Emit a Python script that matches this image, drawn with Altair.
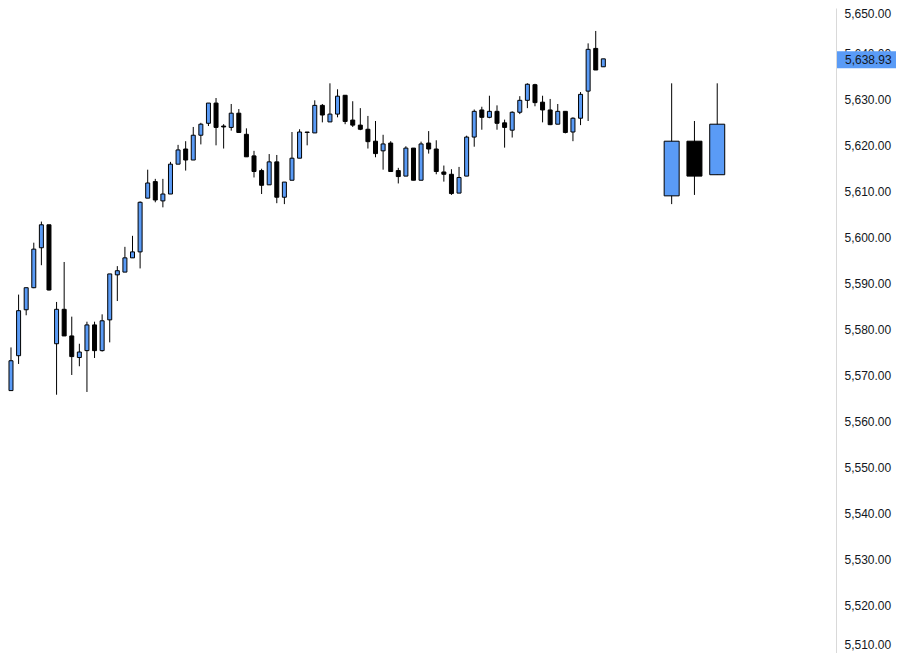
import altair as alt
import pandas as pd

opens = [5566.7, 5574.3, 5584.3, 5589.1, 5597.8, 5602.8, 5576.9, 5584.4, 5578.6, 5573.9,
         5575.4, 5581.0, 5575.4, 5582.1, 5591.9, 5592.5, 5595.6, 5596.9, 5608.6, 5612.2,
         5608.0, 5609.5, 5616.0, 5619.3, 5616.9, 5622.3, 5624.9, 5629.3, 5624.3, 5624.0,
         5627.1, 5622.5, 5617.8, 5614.6, 5611.5, 5616.5, 5608.8, 5612.5, 5617.3, 5623.0,
         5622.8, 5628.8, 5625.2, 5626.9, 5631.0, 5625.6, 5624.5, 5623.6, 5621.0, 5618.9,
         5620.6, 5614.6, 5613.4, 5619.5, 5612.5, 5620.6, 5619.3, 5614.3, 5613.8, 5609.7,
         5613.4, 5621.9, 5627.8, 5626.2, 5627.5, 5625.0, 5623.4, 5627.3, 5629.9, 5633.3,
         5629.5, 5627.8, 5624.7, 5627.5, 5623.0, 5626.0, 5631.9, 5641.2, 5637.2]
highs = [5576.1, 5587.6, 5589.1, 5598.9, 5603.5, 5602.8, 5586.0, 5594.7, 5582.8, 5576.9,
         5581.7, 5581.7, 5583.3, 5592.1, 5593.8, 5598.0, 5600.4, 5607.9, 5614.8, 5612.8,
         5612.8, 5616.5, 5620.2, 5621.0, 5624.1, 5625.0, 5629.3, 5630.4, 5624.7, 5629.1,
         5628.0, 5623.8, 5618.9, 5615.0, 5618.2, 5618.0, 5612.1, 5623.0, 5623.6, 5623.0,
         5629.9, 5629.1, 5633.6, 5632.3, 5631.0, 5629.7, 5628.2, 5626.5, 5625.4, 5622.4,
         5621.0, 5615.2, 5619.9, 5619.5, 5620.9, 5623.2, 5621.2, 5615.7, 5614.9, 5615.4,
         5622.2, 5627.9, 5628.5, 5630.9, 5628.8, 5625.7, 5627.5, 5630.8, 5633.6, 5633.5,
         5630.9, 5630.2, 5629.1, 5627.5, 5626.2, 5631.7, 5642.3, 5645.0, 5638.93]
lows = [5566.7, 5572.5, 5583.1, 5589.0, 5594.0, 5588.5, 5565.8, 5578.6, 5570.1, 5572.0,
        5566.4, 5573.8, 5575.2, 5577.2, 5586.2, 5592.5, 5595.6, 5593.3, 5608.6, 5607.7,
        5606.6, 5609.5, 5616.0, 5614.6, 5616.9, 5620.3, 5624.3, 5620.1, 5619.4, 5623.3,
        5622.9, 5617.6, 5613.1, 5609.5, 5611.5, 5607.5, 5607.3, 5612.5, 5617.3, 5620.1,
        5622.8, 5625.1, 5625.2, 5626.2, 5624.7, 5624.1, 5623.4, 5619.4, 5617.5, 5614.8,
        5614.4, 5611.8, 5613.4, 5612.5, 5612.5, 5618.3, 5613.8, 5612.2, 5609.3, 5609.7,
        5613.4, 5619.8, 5623.5, 5626.0, 5623.5, 5619.6, 5621.8, 5626.9, 5628.2, 5628.6,
        5625.1, 5624.5, 5624.7, 5622.7, 5621.0, 5624.5, 5625.4, 5636.5, 5637.2]
closes = [5573.2, 5584.1, 5589.1, 5597.5, 5602.8, 5588.6, 5584.4, 5578.6, 5574.1, 5575.1,
          5581.0, 5575.4, 5581.9, 5592.1, 5592.8, 5595.6, 5596.9, 5607.7, 5611.9, 5608.2,
          5609.5, 5616.0, 5619.1, 5616.9, 5622.3, 5624.7, 5629.3, 5624.0, 5624.1, 5627.1,
          5622.9, 5617.6, 5614.4, 5611.4, 5616.5, 5608.8, 5612.1, 5617.3, 5623.0, 5622.9,
          5628.8, 5626.7, 5626.9, 5630.8, 5625.3, 5624.5, 5623.6, 5620.9, 5618.3, 5620.4,
          5614.4, 5613.3, 5619.5, 5612.5, 5620.4, 5619.3, 5614.4, 5613.8, 5609.6, 5613.1,
          5621.9, 5627.5, 5626.2, 5627.5, 5624.9, 5624.0, 5627.3, 5629.9, 5633.4, 5629.4,
          5627.8, 5624.6, 5627.5, 5622.9, 5626.0, 5631.2, 5641.0, 5636.5, 5638.93]

# summary candles on the right
big_pos = [87, 90, 93]
big_open = [5609.1, 5621.0, 5613.7]
big_high = [5633.6, 5625.4, 5633.6]
big_low = [5607.3, 5609.3, 5613.7]
big_close = [5621.0, 5613.4, 5624.7]

last_price = 5638.93
last_label = "5,638.93"
y_ticks = [5510, 5520, 5530, 5540, 5550, 5560, 5570, 5580, 5590, 5600, 5610, 5620, 5630, 5640, 5650]

UP = "#5A9BF6"
DOWN = "#000000"

small = pd.DataFrame({
    "idx": list(range(len(opens))),
    "open": opens, "high": highs, "low": lows, "close": closes,
})
small["kind"] = "small"
big = pd.DataFrame({
    "idx": big_pos, "open": big_open, "high": big_high, "low": big_low, "close": big_close,
})
big["kind"] = "big"
df = pd.concat([small, big], ignore_index=True)
df["dir"] = ["up" if c >= o else "down" for o, c in zip(df["open"], df["close"])]

W, H = 828, 645
xs = alt.Scale(domain=[-0.395, 108.64], nice=False, zero=False, padding=0)
ys = alt.Scale(domain=[5650 - H / 4.593, 5650], nice=False, zero=False, padding=0)

x_enc = alt.X("idx:Q", scale=xs, axis=None)
color_enc = alt.Color("dir:N", scale=alt.Scale(domain=["up", "down"], range=[UP, DOWN]), legend=None)

base = alt.Chart(df)

wicks = base.mark_rule(color="black", strokeWidth=1).encode(
    x=x_enc,
    y=alt.Y("low:Q", scale=ys, axis=alt.Axis(
        orient="right", values=y_ticks, format=",.2f", grid=False, ticks=False,
        labelPadding=8, labelFont="Liberation Sans", labelFontSize=12, labelColor="#131722",
        labelFlush=3, domainColor="#d9d9d9", domainWidth=1, title=None)),
    y2="high:Q",
)

bodies_small = base.transform_filter(alt.datum.kind == "small").mark_bar(
    size=4, stroke="black", strokeWidth=1, orient="vertical"
).encode(x=x_enc, y=alt.Y("open:Q", scale=ys), y2="close:Q", color=color_enc)

bodies_big = base.transform_filter(alt.datum.kind == "big").mark_bar(
    size=15, stroke="black", strokeWidth=1, orient="vertical"
).encode(x=x_enc, y=alt.Y("open:Q", scale=ys), y2="close:Q", color=color_enc)

price_df = pd.DataFrame({"price": [last_price], "label": [last_label]})
price_box = alt.Chart(price_df).mark_rule(color=UP, strokeWidth=17, strokeCap="butt", yOffset=1).encode(
    x=alt.value(W + 1), x2=alt.value(W + 60), y=alt.Y("price:Q", scale=ys)
)
price_text = alt.Chart(price_df).mark_text(
    align="left", baseline="middle", font="Liberation Sans", fontSize=12, color="#131722", dy=1
).encode(x=alt.value(W + 9), y=alt.Y("price:Q", scale=ys), text="label:N")

chart = alt.layer(wicks, bodies_small, bodies_big, price_box, price_text).properties(
    width=W, height=H,
    autosize=alt.AutoSizeParams(type="none"),
    padding={"left": 0, "top": 0, "right": 63, "bottom": 0},
    background="white",
).configure_view(stroke=None)

chart.save("out.html", embed_options={"renderer": "svg", "actions": False})
